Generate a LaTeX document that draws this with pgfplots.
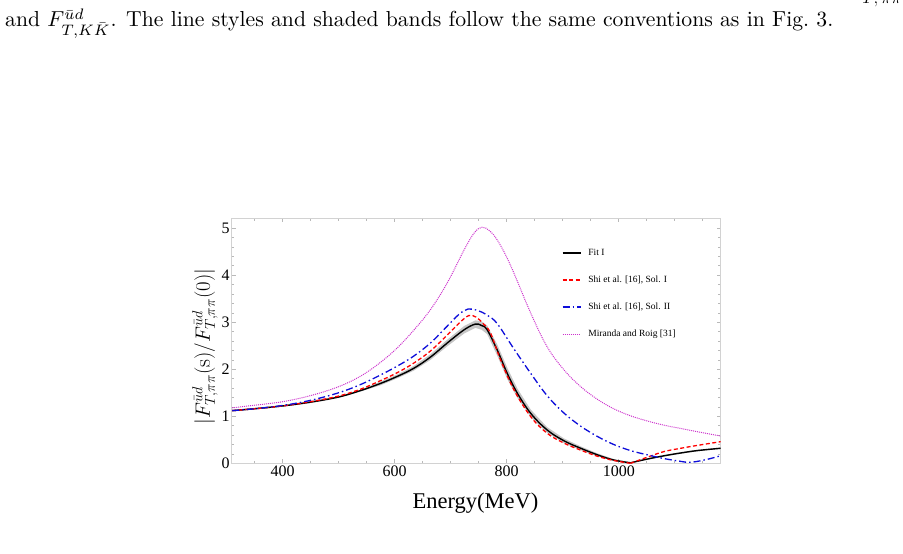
\documentclass[border=0pt]{standalone}
\usepackage{fontspec}
\usepackage{pgfplots}
\pgfplotsset{compat=1.18}
\newfontfamily\tnr{Liberation Serif}

\definecolor{solblue}{rgb}{0.05,0.05,0.85}
\definecolor{mrmag}{rgb}{0.80,0.20,0.80}

\begin{document}
\begin{tikzpicture}
\path[use as bounding box] (0,0) rectangle (903pt,554pt);

% end of the preceding caption line (cut by the page edge)
\node[anchor=south west, inner sep=0pt] at (862pt,547pt)
  {\fontsize{16}{18}\selectfont $T,\pi\pi$};

\node[anchor=base west, inner sep=0pt] at (5pt,527pt)
  {\resizebox{828pt}{!}{and $F^{\bar u d}_{T,K\bar K}$. The line styles and shaded bands follow the same conventions as in Fig.~3.}};

\node[rotate=90, inner sep=0pt] at (205pt,207.5pt)
  {\fontsize{22}{26}\selectfont $|F^{\bar u d}_{T,\pi\pi}(\mathrm{s})/F^{\bar u d}_{T,\pi\pi}(0)|$};

\node[inner sep=0pt] at (475.5pt,51pt)
  {\tnr\fontsize{22.5}{26}\selectfont Energy(MeV)};

\begin{axis}[
  at={(231.7pt,90.7pt)}, anchor=south west,
  scale only axis, width=489pt, height=245pt,
  xmin=309, xmax=1182, ymin=0, ymax=5.21,
  xtick={400,600,800,1000},
  ytick={0,1,2,3,4,5},
  minor xtick={350,450,500,550,650,700,750,850,900,950,1050,1100,1150},
  minor ytick={0.2,0.4,0.6,0.8,1.2,1.4,1.6,1.8,2.2,2.4,2.6,2.8,3.2,3.4,3.6,3.8,4.2,4.4,4.6,4.8,5.2},
  tick align=inside,
  major tick length=4pt, minor tick length=2.5pt,
  tick style={gray!55, line width=0.6pt},
  axis line style={gray!35, line width=0.8pt},
  ticklabel style={font=\tnr\fontsize{16}{18}\selectfont, text=black},
  /pgf/number format/assume math mode=true,
  /pgf/number format/1000 sep={},
  yticklabel style={inner sep=2pt},
  xticklabel style={inner sep=2pt},
  legend style={draw=none, fill=none, at={(0.675,0.883)}, anchor=north west,
    inner sep=0pt, font=\tnr\fontsize{9.5}{11}\selectfont, row sep=15pt,
    cells={anchor=west}},
  legend image code/.code={\draw[#1] (0pt,0pt) -- (18pt,0pt); \path (23pt,0pt);},
]

% uncertainty band of Fit I: upper edge left to right, lower edge back
\addplot[fill=gray!45, draw=none, forget plot] table {
310 1.135
400 1.235
500 1.425
540 1.57
575 1.74
605 1.89
634 2.07
664 2.32
694 2.63
724 2.92
744 3.04
755 3.02
765 2.93
783 2.53
801 2.03
819 1.59
843 1.14
872 0.77
902 0.53
932 0.36
962 0.21
991 0.09
1021 0.025
1051 0.105
1081 0.175
1111 0.235
1140 0.285
1182 0.335
1182 0.305
1140 0.255
1111 0.205
1081 0.145
1051 0.075
1021 0.0
991 0.05
962 0.15
932 0.28
902 0.43
872 0.65
843 0.98
819 1.39
801 1.79
783 2.29
765 2.75
755 2.84
744 2.88
724 2.76
694 2.49
664 2.20
634 1.97
605 1.81
575 1.66
540 1.53
500 1.395
400 1.205
310 1.105
};

% Fit I
\addplot[black, line width=1.4pt, smooth, tension=0.6] table {
310 1.12
350 1.16
400 1.22
450 1.30
500 1.41
540 1.55
575 1.70
605 1.85
634 2.02
664 2.26
694 2.56
724 2.84
744 2.96
755 2.93
765 2.84
783 2.41
801 1.91
819 1.49
843 1.06
872 0.71
902 0.48
932 0.32
962 0.18
991 0.07
1021 0.01
};
\addlegendentry{Fit I}
\addplot[black, line width=1.4pt, smooth, tension=0.6, forget plot] table {
1021 0.01
1051 0.09
1081 0.16
1111 0.22
1140 0.27
1182 0.32
};

% Shi et al., Sol. I
\addplot[red, line width=1.3pt, dash pattern=on 4pt off 2.5pt, smooth, tension=0.6] table {
310 1.12
350 1.16
400 1.22
450 1.31
500 1.43
540 1.58
575 1.76
605 1.93
634 2.13
664 2.39
694 2.73
715 2.98
732 3.14
745 3.11
758 2.97
771 2.77
789 2.20
813 1.56
843 0.99
872 0.64
902 0.43
932 0.28
962 0.15
991 0.06
1021 0.00
};
\addlegendentry{Shi et al. [16], Sol. I}
\addplot[red, line width=1.3pt, dash pattern=on 4pt off 2.5pt, smooth, tension=0.6, forget plot] table {
1021 0.00
1051 0.13
1081 0.25
1111 0.32
1140 0.38
1182 0.46
};

% Shi et al., Sol. II
\addplot[solblue, line width=1.3pt, dash pattern=on 7pt off 3pt on 1.5pt off 3pt, smooth, tension=0.6] table {
310 1.12
350 1.16
400 1.23
450 1.34
500 1.50
540 1.68
575 1.88
605 2.07
634 2.28
664 2.56
694 2.92
715 3.17
731 3.28
748 3.25
765 3.15
783 2.97
813 2.43
843 1.91
872 1.44
902 1.07
932 0.79
962 0.57
991 0.40
1021 0.27
1051 0.18
1081 0.10
1111 0.04
1125 0.02
1140 0.04
1160 0.09
1182 0.16
};
\addlegendentry{Shi et al. [16], Sol. II}

% Miranda and Roig
\addplot[mrmag, line width=1pt, dash pattern=on 1pt off 1pt, smooth, tension=0.6] table {
310 1.18
350 1.235
400 1.31
450 1.44
500 1.63
540 1.86
575 2.15
605 2.46
634 2.83
664 3.27
694 3.84
724 4.54
742 4.90
756 5.02
770 4.94
783 4.75
798 4.43
813 4.04
843 3.19
872 2.48
902 1.99
932 1.63
962 1.36
991 1.16
1021 1.01
1051 0.90
1081 0.81
1111 0.74
1150 0.65
1182 0.58
};
\addlegendentry{Miranda and Roig [31]}

\end{axis}
\end{tikzpicture}
\end{document}
